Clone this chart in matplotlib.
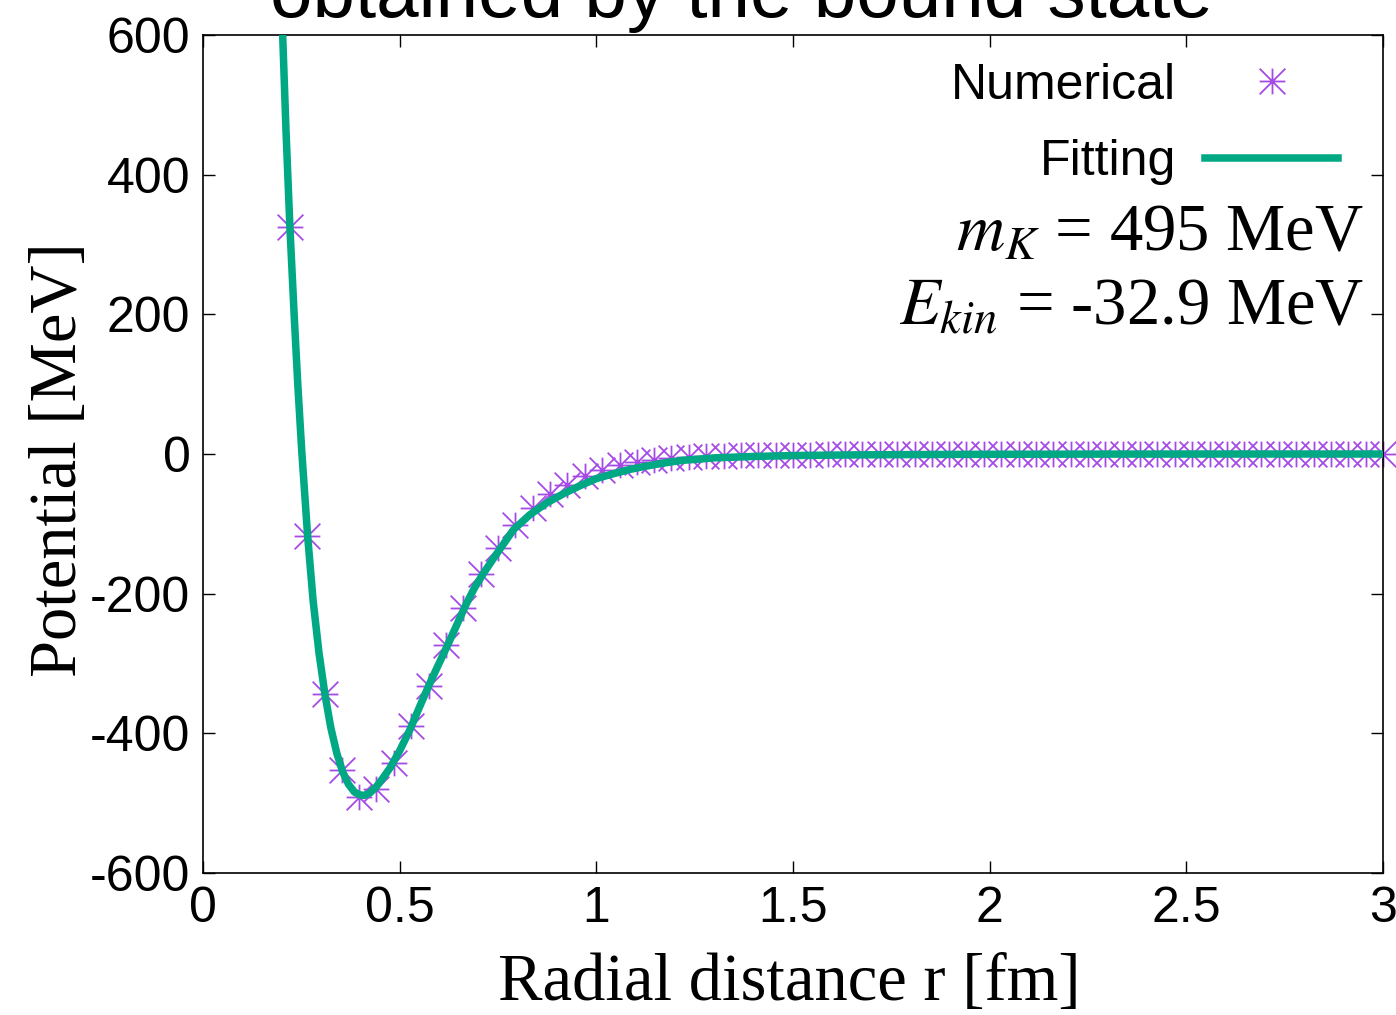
import matplotlib
matplotlib.use('Agg')
import matplotlib.pyplot as plt
from matplotlib.path import Path
from matplotlib.lines import Line2D


# lattice points of the numerical potential (r in fm, V in MeV)
r_num = [0.221, 0.265, 0.309, 0.353, 0.397, 0.441, 0.485, 0.529, 0.574, 0.618,
         0.662, 0.706, 0.750, 0.794, 0.838, 0.882, 0.926, 0.971, 1.015, 1.059,
         1.103, 1.147, 1.191, 1.235, 1.279, 1.324, 1.368, 1.412, 1.456, 1.500,
         1.544, 1.588, 1.632, 1.676, 1.721, 1.765, 1.809, 1.853, 1.897, 1.941,
         1.985, 2.029, 2.074, 2.118, 2.162, 2.206, 2.250, 2.294, 2.338, 2.382,
         2.426, 2.471, 2.515, 2.559, 2.603, 2.647, 2.691, 2.735, 2.779, 2.824,
         2.868, 2.912, 2.956, 3.000]
v_num = [325, -117, -344, -452, -491, -480, -443, -390, -332, -274,
         -220, -172, -134, -102, -78, -57, -44, -32, -23, -16,
         -11, -8, -6, -4.5, -3.5, -2.5, -2, -1.5, -1.2, -1,
         -0.8, -0.6, -0.5, -0.4, -0.3, -0.3, -0.2, -0.2, -0.1, -0.1,
         0, 0, 0, 0, 0, 0, 0, 0, 0, 0,
         0, 0, 0, 0, 0, 0, 0, 0, 0, 0,
         0, 0, 0, 0]

# fitted curve
r_fit = [0.196, 0.2026, 0.211, 0.221, 0.232, 0.241, 0.251, 0.266, 0.280, 0.295,
         0.310, 0.325, 0.340, 0.355, 0.370, 0.385, 0.398, 0.410, 0.425, 0.440,
         0.455, 0.475, 0.500, 0.526, 0.550, 0.577, 0.600, 0.620, 0.645, 0.670,
         0.690, 0.713, 0.738, 0.760, 0.790, 0.831, 0.874, 0.916, 0.960, 1.001,
         1.045, 1.086, 1.130, 1.170, 1.220, 1.255, 1.300, 1.400, 1.500, 1.650,
         1.800, 2.000, 2.300, 2.600, 3.000]
v_fit = [720, 600, 464, 325, 197, 100, 5, -117, -210, -285,
         -344, -392, -428, -455, -473, -484, -488, -489, -485, -477,
         -466, -450, -425, -395, -363, -328, -300, -276, -245, -214,
         -192, -171, -150, -132, -108, -87, -70, -57, -45, -35,
         -28, -22, -17, -13, -9, -7.6, -5.5, -3.5, -2.2, -1.3,
         -0.8, -0.4, -0.1, 0, 0]

x_ticks = [0, 0.5, 1, 1.5, 2, 2.5, 3]
x_tick_labels = ['0', '0.5', '1', '1.5', '2', '2.5', '3']
y_ticks = [-600, -400, -200, 0, 200, 400, 600]
y_tick_labels = ['-600', '-400', '-200', '0', '200', '400', '600']

GREEN = '#00a884'
PURPLE = '#a64ae6'

plt.rcParams['mathtext.fontset'] = 'stix'
plt.rcParams['axes.unicode_minus'] = False

# gnuplot style asterisk: + and x on top of each other
star = Path([(-1, 0), (1, 0), (0, -1), (0, 1), (-1, -1), (1, 1), (-1, 1), (1, -1)],
            [Path.MOVETO, Path.LINETO] * 4)

fig = plt.figure(figsize=(13.96, 10.15), dpi=100)
ax = fig.add_axes([0.1454, 0.1399, 0.8453, 0.8256])

ax.plot(r_num, v_num, linestyle='none', marker=star, markersize=18.5,
        markerfacecolor='none', markeredgecolor=PURPLE, markeredgewidth=1.3,
        clip_on=False, zorder=2)
ax.plot(r_fit, v_fit, color=GREEN, linewidth=5.4, solid_capstyle='butt', zorder=3)

ax.set_xlim(0, 3)
ax.set_ylim(-600, 600)
ax.set_xticks(x_ticks)
ax.set_xticklabels(x_tick_labels, fontfamily='Liberation Sans', fontsize=36)
ax.set_yticks(y_ticks)
ax.set_yticklabels(y_tick_labels, fontfamily='Liberation Sans', fontsize=36)
ax.tick_params(direction='in', length=8.5, width=1.0, top=True, right=True)
ax.tick_params(axis='y', pad=9)
ax.tick_params(axis='x', pad=9)
for s in ax.spines.values():
    s.set_linewidth(1.2)

ax.set_xlabel('Radial distance r [fm]', fontfamily='Liberation Serif', fontsize=48)
ax.set_ylabel('Potential [MeV]', fontfamily='Liberation Serif', fontsize=48)
ax.xaxis.set_label_coords(0.4966, -0.096)
ax.yaxis.set_label_coords(-0.096, 0.493)

handles = [
    Line2D([], [], linestyle='none', marker=star, markersize=18.5,
           markerfacecolor='none', markeredgecolor=PURPLE, markeredgewidth=1.3),
    Line2D([], [], color=GREEN, linewidth=5.4),
]
ax.legend(handles, ['Numerical', 'Fitting'], loc='upper right',
          bbox_to_anchor=(0.962, 0.967), markerfirst=False, frameon=False,
          prop={'family': 'Liberation Sans', 'size': 36},
          handlelength=2.66, handletextpad=0.58, labelspacing=0.61,
          borderpad=0, borderaxespad=0)

ax.text(0.984, 0.743, r'$m_K$ = 495 MeV', transform=ax.transAxes,
        ha='right', va='baseline', fontfamily='Liberation Serif', fontsize=48)
ax.text(0.984, 0.654, r'$E_{kin}$ = -32.9 MeV', transform=ax.transAxes,
        ha='right', va='baseline', fontfamily='Liberation Serif', fontsize=48)

# second line of the title; the first one lies above the picture
fig.text(0.531, 1 - 17 / 1015, 'obtained by the bound state', ha='center',
         va='baseline', fontfamily='Liberation Sans', fontsize=55)

fig.savefig('out.png', dpi=100)
